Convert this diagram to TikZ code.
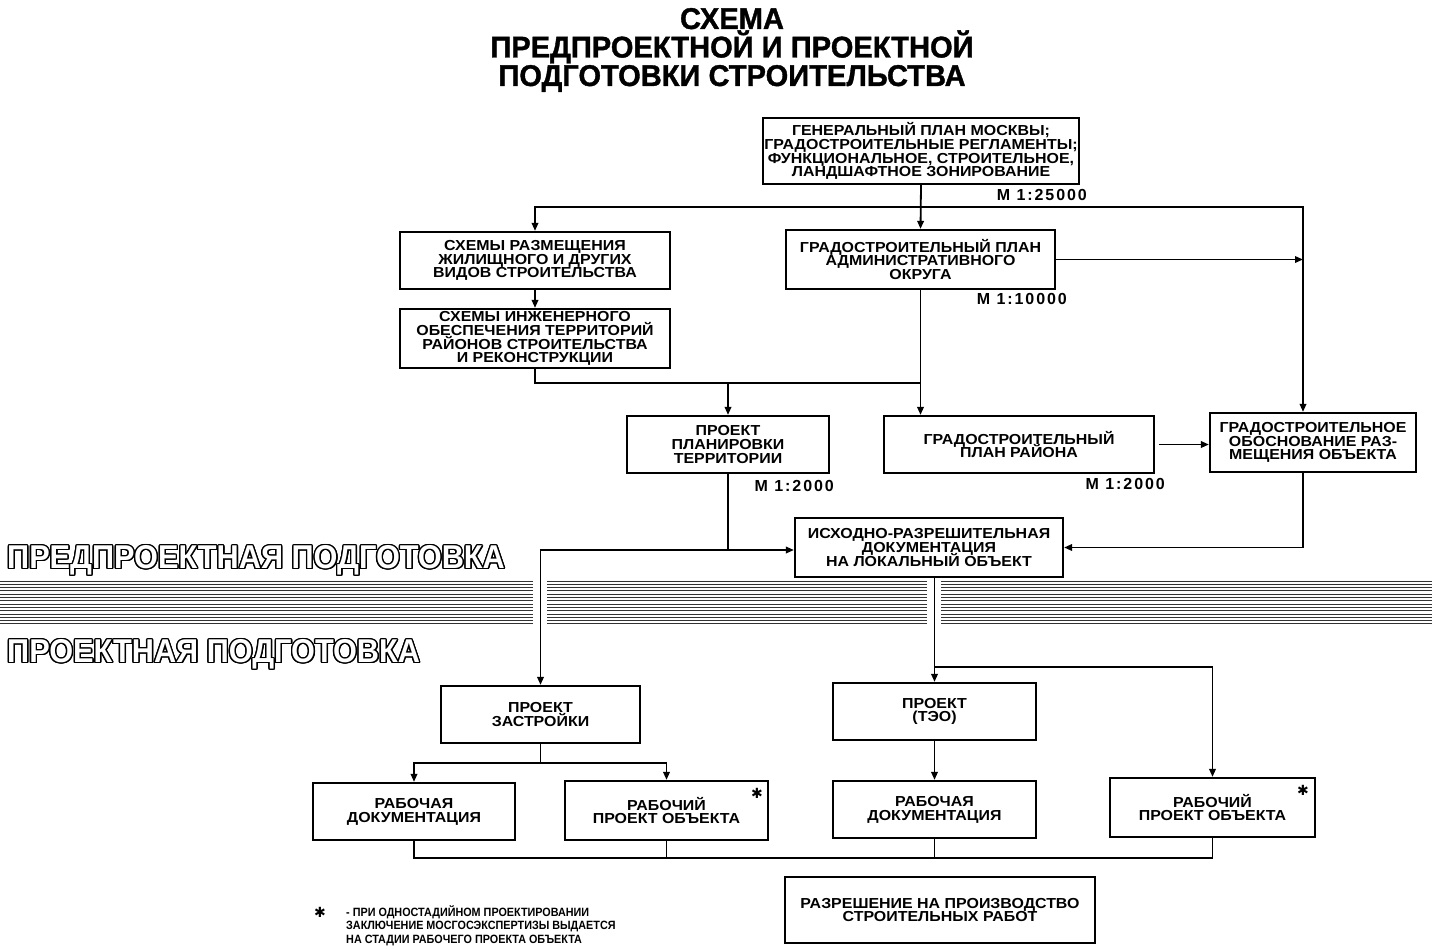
\documentclass[tikz,border=0pt]{standalone}
\usepackage{fontspec}
\setmainfont{Liberation Sans}
\newfontfamily\ttlfont[FakeStretch=0.97, FakeBold=1.2]{Liberation Sans}
\newfontfamily\boxfont[FakeStretch=1.1]{Liberation Sans}
\newfontfamily\notefont[FakeStretch=0.9]{Liberation Sans}
\newfontfamily\mscalefont[LetterSpace=12]{Liberation Sans}
\newfontfamily\stagefont[FakeStretch=0.93]{Liberation Sans}
\newfontfamily\symfont{DejaVu Sans}
\usepackage[copies]{contour}
\contourlength{1.4pt}
\lineskiplimit=-20pt
\usetikzlibrary{arrows.meta,positioning}

\begin{document}
\begin{tikzpicture}[x=1pt, y=-1pt, >={Triangle[length=8pt,width=6.5pt]},
  block/.style={rectangle, draw, line width=2.2pt, align=center, inner sep=1pt, font=\boxfont\bfseries\fontsize{14.5}{13.8}\selectfont},
  link/.style={line width=1.8pt},
  stripe/.style={line width=0.9pt, black!80},
  scalelabel/.style={font=\mscalefont\bfseries\fontsize{16}{16}\selectfont, inner sep=0pt},
  stagelabel/.style={anchor=west, inner sep=0pt, font=\stagefont\bfseries\fontsize{33}{33}\selectfont},
  starmark/.style={font=\symfont\fontsize{14}{14}\selectfont, inner sep=0pt}]

  \useasboundingbox (0,0) rectangle (1432,950);

  % title
  \node[align=center, font=\ttlfont\bfseries\fontsize{30}{28.5}\selectfont] (title) at (732,50)
    {СХЕМА\\ ПРЕДПРОЕКТНОЙ И ПРОЕКТНОЙ\\ ПОДГОТОВКИ СТРОИТЕЛЬСТВА};

  % stage band
  \foreach \yy in {581,584.3,...,626}
    \draw[stripe] (0,\yy) -- (1432,\yy);
  \fill[white] (533,576) rectangle (547,630);
  \fill[white] (927,576) rectangle (941,630);
  \node[stagelabel] (prestage) at (7,561) {\contour{black}{\textcolor{white}{ПРЕДПРОЕКТНАЯ ПОДГОТОВКА}}};
  \node[stagelabel] (projstage) at (7,655) {\contour{black}{\textcolor{white}{ПРОЕКТНАЯ ПОДГОТОВКА}}};

  % pre-design boxes
  \node[block, minimum width=316pt, minimum height=66pt] (genplan) at (921,151)
    {ГЕНЕРАЛЬНЫЙ ПЛАН МОСКВЫ;\\ ГРАДОСТРОИТЕЛЬНЫЕ РЕГЛАМЕНТЫ;\\ ФУНКЦИОНАЛЬНОЕ, СТРОИТЕЛЬНОЕ,\\ ЛАНДШАФТНОЕ ЗОНИРОВАНИЕ};
  \node[block, minimum width=270pt, minimum height=57pt] (razm) at (535,260.5)
    {СХЕМЫ РАЗМЕЩЕНИЯ\\ ЖИЛИЩНОГО И ДРУГИХ\\ ВИДОВ СТРОИТЕЛЬСТВА};
  \node[block, minimum width=269pt, minimum height=59pt] (okrug) at (920.5,259.5)
    {ГРАДОСТРОИТЕЛЬНЫЙ ПЛАН\\ АДМИНИСТРАТИВНОГО\\ ОКРУГА};
  \node[block, minimum width=270pt, minimum height=59pt] (inzh) at (535,338.5)
    {СХЕМЫ ИНЖЕНЕРНОГО\\ ОБЕСПЕЧЕНИЯ ТЕРРИТОРИЙ\\ РАЙОНОВ СТРОИТЕЛЬСТВА\\ И РЕКОНСТРУКЦИИ};
  \node[block, minimum width=202pt, minimum height=57pt] (planir) at (728,444.5)
    {ПРОЕКТ\\ ПЛАНИРОВКИ\\ ТЕРРИТОРИИ};
  \node[block, minimum width=270pt, minimum height=57pt] (rajon) at (1019,444.5)
    {ГРАДОСТРОИТЕЛЬНЫЙ\\ ПЛАН РАЙОНА};
  \node[block, minimum width=206pt, minimum height=59pt] (obosn) at (1313,442.5)
    {ГРАДОСТРОИТЕЛЬНОЕ\\ ОБОСНОВАНИЕ РАЗ-\\ МЕЩЕНИЯ ОБЪЕКТА};
  \node[block, minimum width=268pt, minimum height=59pt] (irdoc) at (929,547.5)
    {ИСХОДНО-РАЗРЕШИТЕЛЬНАЯ\\ ДОКУМЕНТАЦИЯ\\ НА ЛОКАЛЬНЫЙ ОБЪЕКТ};

  % scales
  \node[scalelabel, anchor=north east] (m25000) at (1087,189) {М 1:25000};
  \node[scalelabel, anchor=north east] (m10000) at (1067,293) {М 1:10000};
  \node[scalelabel, anchor=north east] (m2000a) at (834,480) {М 1:2000};
  \node[scalelabel, anchor=north east] (m2000b) at (1165,478) {М 1:2000};

  % design boxes
  \node[block, minimum width=199pt, minimum height=57pt] (zastr) at (540.5,714.5)
    {ПРОЕКТ\\ ЗАСТРОЙКИ};
  \node[block, minimum width=203pt, minimum height=57pt] (teo) at (934.5,711.5)
    {ПРОЕКТ\\ (ТЭО)};
  \node[block, minimum width=202pt, minimum height=57pt] (rd1) at (414,811.5)
    {РАБОЧАЯ\\ ДОКУМЕНТАЦИЯ};
  \node[block, minimum width=203pt, minimum height=59pt] (rpo1) at (666.5,810.5)
    {РАБОЧИЙ\\ ПРОЕКТ ОБЪЕКТА};
  \node[block, minimum width=203pt, minimum height=57pt] (rd2) at (934.5,809.5)
    {РАБОЧАЯ\\ ДОКУМЕНТАЦИЯ};
  \node[block, minimum width=205pt, minimum height=59pt] (rpo2) at (1212.5,807.5)
    {РАБОЧИЙ\\ ПРОЕКТ ОБЪЕКТА};
  \node[block, minimum width=310pt, minimum height=66pt] (razr) at (940,910)
    {РАЗРЕШЕНИЕ НА ПРОИЗВОДСТВО\\ СТРОИТЕЛЬНЫХ РАБОТ};
  \node[starmark] (star1) at (757,793) {✱};
  \node[starmark] (star2) at (1303,790) {✱};

  % footnote
  \node[starmark] (fnstar) at (320,912) {✱};
  \node[anchor=north west, align=left, inner sep=0pt, font=\notefont\bfseries\fontsize{12}{13.5}\selectfont] (note) at (346,905)
    {- ПРИ ОДНОСТАДИЙНОМ ПРОЕКТИРОВАНИИ\\ ЗАКЛЮЧЕНИЕ МОСГОСЭКСПЕРТИЗЫ ВЫДАЕТСЯ\\ НА СТАДИИ РАБОЧЕГО ПРОЕКТА ОБЪЕКТА};

  % junctions
  \coordinate (jtop) at (921,207);
  \coordinate (rbus) at (1303,207);
  \coordinate (jmid) at (921,383);
  \coordinate (jlow) at (728,550);
  \coordinate (jteo) at (934.5,667);
  \coordinate (jzas) at (540.5,763);
  \coordinate (jbot) at (1212.5,858);

  % connectors
  \draw[link,->] (genplan.south) -- (okrug.north);
  \draw[link,->] (jtop) -| (razm.north);
  \draw[link,->] (jtop) -- (rbus) -- (rbus |- obosn.north);
  \draw[link,->] (okrug.east) -- (rbus |- okrug.east);
  \draw[link,->] (razm) -- (inzh);
  \draw[link] (inzh.south) |- (jmid);
  \draw[link,->] (okrug.south) -- (okrug.south |- rajon.north);
  \draw[link,->] (planir.north |- jmid) -- (planir.north);
  \draw[link,->, shorten <=4pt] (rajon.east) -- (rajon.east -| obosn.west);
  \draw[link,->] (rbus |- obosn.south) |- (irdoc.east);
  \draw[link] (planir.south) -- (jlow);
  \draw[link,->] (jlow) -- (jlow -| irdoc.west);
  \draw[link,->] (jlow) -| (zastr.north);
  \draw[link] (irdoc.south -| jteo) -- (jteo);
  \draw[link,->] (jteo) -- (teo.north);
  \draw[link,->] (jteo) -| (rpo2.north);
  \draw[link] (zastr.south) -- (jzas);
  \draw[link,->] (jzas) -| (rd1.north);
  \draw[link,->] (jzas) -| (rpo1.north);
  \draw[link,->] (teo) -- (rd2);
  \draw[link] (rd1.south) |- (jbot) -- (rpo2.south);
  \draw[link] (rpo1.south) -- (rpo1.south |- jbot);
  \draw[link] (rd2.south) -- (rd2.south |- jbot);
\end{tikzpicture}
\end{document}
